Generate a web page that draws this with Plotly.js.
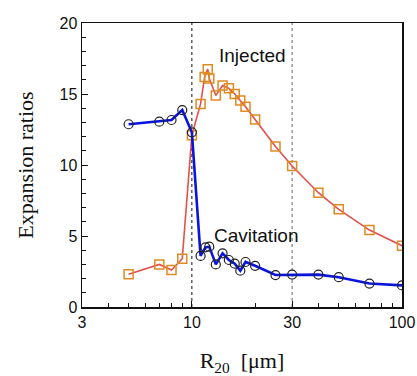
<!DOCTYPE html>
<html>
<head>
<meta charset="utf-8">
<script src="https://cdn.plot.ly/plotly-3.0.1.min.js"></script>
<style>html,body{margin:0;padding:0;background:#fff;}#chart{width:417px;height:376px;}</style>
</head>
<body>
<div id="chart"></div>
<script>
// Data
const injectedR = [5, 7, 8, 9, 10, 11, 11.5, 11.9, 12.1, 13, 14, 15, 16, 17, 18, 20, 25, 30, 40, 50, 70, 100];
const injectedRatio = [2.3, 3.0, 2.6, 3.4, 12.1, 14.3, 16.2, 16.75, 16.1, 14.9, 15.6, 15.4, 15.0, 14.55, 14.1, 13.2, 11.3, 9.93, 8.05, 6.88, 5.42, 4.32];
const cavitationR = [5, 7, 8, 9, 10, 11, 11.6, 12.1, 13, 14, 15, 16, 17, 18, 20, 25, 30, 40, 50, 70, 100];
const cavitationRatio = [12.87, 13.05, 13.17, 13.87, 12.3, 3.6, 4.2, 4.25, 3.0, 3.78, 3.31, 3.05, 2.56, 3.17, 2.9, 2.25, 2.28, 2.28, 2.1, 1.65, 1.52];
const guideR = [10, 30];
const guideColor = ['#111', '#666'];
const xTickVals = [3, 10, 30, 100];
const xTickText = ['3', '10', '30', '100'];
const xMinorVals = [4, 5, 6, 7, 8, 9, 20, 40, 50, 60, 70, 80, 90];

const traces = [];
guideR.forEach((r, i) => {
  traces.push({x: [r, r], y: [0, 20], mode: 'lines', line: {color: guideColor[i], width: 1, dash: 'dot'}, hoverinfo: 'skip', showlegend: false});
});
traces.push({
  x: injectedR, y: injectedRatio, mode: 'lines+markers',
  line: {color: '#e2504c', width: 1.6},
  marker: {symbol: 'square-open', size: 9, color: '#e08a22', line: {width: 1.5, color: '#e08a22'}},
  showlegend: false
});
traces.push({
  x: cavitationR, y: cavitationRatio, mode: 'lines+markers',
  line: {color: '#0a14dc', width: 2.6},
  marker: {symbol: 'circle-open', size: 9, color: '#222', line: {width: 1.2, color: '#222'}},
  showlegend: false
});

const layout = {
  width: 417, height: 376,
  margin: {l: 82, r: 15, t: 23, b: 69},
  paper_bgcolor: '#fff', plot_bgcolor: '#fff',
  font: {family: 'Liberation Sans, Arial, sans-serif', color: '#111', size: 16},
  xaxis: {
    type: 'log', range: [Math.log10(3), Math.log10(100)],
    tickmode: 'array', tickvals: xTickVals, ticktext: xTickText,
    ticks: 'inside', ticklen: 6, tickwidth: 1, tickcolor: '#111',
    minor: {tickmode: 'array', tickvals: xMinorVals, ticks: 'inside', ticklen: 4, tickwidth: 1, tickcolor: '#111', showgrid: false},
    showgrid: false, zeroline: false,
    showline: true, mirror: true, linecolor: '#111', linewidth: 1.5,
    tickfont: {size: 16},
    title: {text: 'R<sub>20</sub>  [μm]', font: {family: 'Liberation Serif, Times New Roman, serif', size: 22}, standoff: 26}
  },
  yaxis: {
    range: [0, 20], tickmode: 'array', tickvals: [0, 5, 10, 15, 20],
    ticks: 'inside', ticklen: 6, tickwidth: 1, tickcolor: '#111',
    minor: {dtick: 1, ticks: 'inside', ticklen: 4, tickwidth: 1, tickcolor: '#111', showgrid: false},
    showgrid: false, zeroline: false,
    showline: true, mirror: true, linecolor: '#111', linewidth: 1.5,
    tickfont: {size: 16},
    title: {text: 'Expansion ratios', font: {family: 'Liberation Serif, Times New Roman, serif', size: 22}, standoff: 20}
  },
  annotations: [
    {text: 'Injected', xref: 'paper', yref: 'y', x: 0.534, y: 17.7, showarrow: false, font: {size: 19}},
    {text: 'Cavitation', xref: 'paper', yref: 'y', x: 0.545, y: 5.07, showarrow: false, font: {size: 19}}
  ]
};

Plotly.newPlot('chart', traces, layout, {displayModeBar: false, staticPlot: true});
</script>
</body>
</html>
